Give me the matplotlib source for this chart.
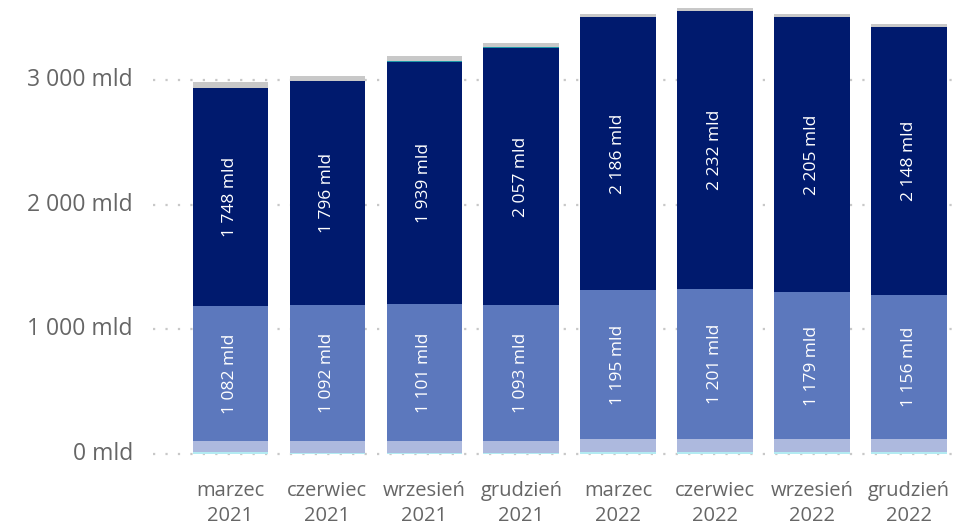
import matplotlib
matplotlib.use("Agg")
from matplotlib import pyplot as plt
import numpy as np

plt.rcParams['font.family'] = ['Open Sans', 'DejaVu Sans']

# quarters
months = ['marzec', 'czerwiec', 'wrzesień', 'grudzień',
          'marzec', 'czerwiec', 'wrzesień', 'grudzień']
years = ['2021', '2021', '2021', '2021', '2022', '2022', '2022', '2022']

# stacked segments, bottom to top (mld)
cyan_part = [14, 12, 8, 12, 16, 16, 16, 16]
lavender_part = [92, 92, 96, 92, 104, 104, 104, 104]
mid_part = [1082, 1092, 1101, 1093, 1195, 1201, 1179, 1156]
navy_part = [1748, 1796, 1939, 2057, 2186, 2232, 2205, 2148]
teal_part = [0, 0, 8, 8, 0, 0, 0, 0]
gray_part = [46, 38, 38, 32, 24, 24, 24, 24]
labelled = [False, False, True, True, False, False]

layers = [
    (cyan_part, '#B3EBF2'),
    (lavender_part, '#ADB9DE'),
    (mid_part, '#5C78BD'),
    (navy_part, '#001A6E'),
    (teal_part, '#1E96A8'),
    (gray_part, '#C8C8C8'),
]

fig = plt.figure(figsize=(9.55, 5.27), dpi=100)
ax = fig.add_axes([0.0, 73 / 527, 1.0, 454 / 527])

YMAX = 3641
px = YMAX / 454  # data units per pixel

x = np.arange(len(months))
width = 0.78
bottom = np.zeros(len(months))
for (vals, color), lab in zip(layers, labelled):
    vals = np.array(vals, dtype=float)
    ax.bar(x, vals, width, bottom=bottom, color=color, zorder=2, linewidth=0)
    if lab:
        for xi, b, v in zip(x, bottom, vals):
            label = f'{int(v):,} mld'.replace(',', ' ')
            ax.text(xi, b + v / 2, label, rotation=90, ha='center', va='center',
                    color='white', fontsize=12.5, zorder=3)
    bottom += vals

ax.set_xlim(-0.8 - 153 / 97, 7.0 + (955 - 909) / 97)
ax.set_ylim(0, YMAX)

for t in [0, 1000, 2000, 3000]:
    ax.plot([-0.8, 7.45], [t, t], color='#C8C8C8', linestyle=(0, (1, 4.6)),
            linewidth=1.6, zorder=1, clip_on=False)
    ax.text(-0.8 - 20 / 97, t, f'{t:,} mld'.replace(',', ' '), ha='right',
            va='center', fontsize=16.5, color='#666666')

for xi, m, yr in zip(x, months, years):
    ax.text(xi, -37 * px, m, ha='center', va='center',
            fontsize=14.5, color='#666666', clip_on=False)
    ax.text(xi, -62 * px, yr, ha='center', va='center',
            fontsize=14.5, color='#666666', clip_on=False)

ax.set_xticks([])
ax.set_yticks([])
for s in ax.spines.values():
    s.set_visible(False)
ax.patch.set_alpha(0)

fig.savefig('out.png', dpi=100)
